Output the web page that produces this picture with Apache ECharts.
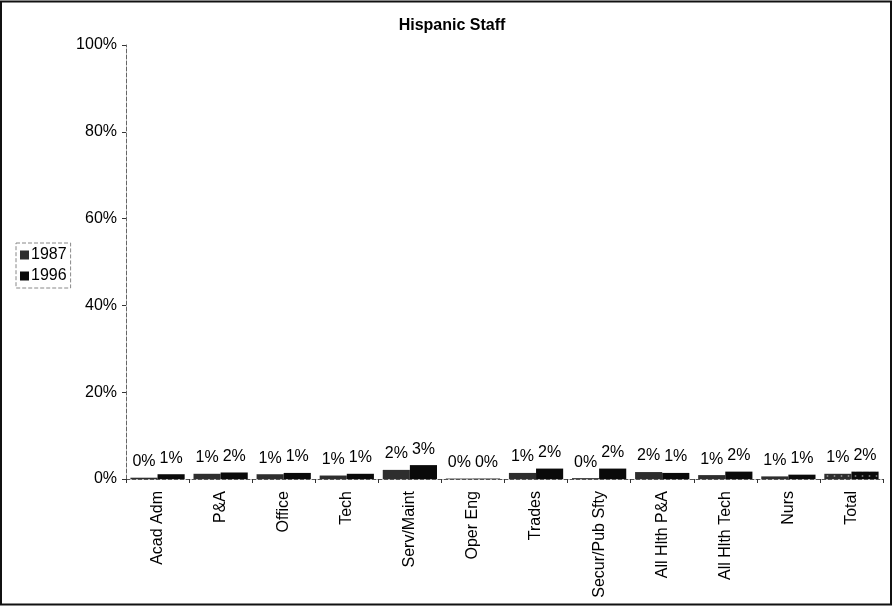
<!DOCTYPE html>
<html>
<head>
<meta charset="utf-8">
<script src="https://cdn.jsdelivr.net/npm/echarts@6/dist/echarts.min.js"></script>
<style>
  html, body { margin: 0; padding: 0; background: #fff; }
  #chart { width: 894px; height: 607px; }
</style>
</head>
<body>
<div id="chart"></div>
<script>
// Staff job categories
const categories = ['Acad Adm', 'P&A', 'Office', 'Tech', 'Serv/Maint', 'Oper Eng',
  'Trades', 'Secur/Pub Sfty', 'All Hlth P&A', 'All Hlth Tech', 'Nurs', 'Total'];
// Hispanic share of staff, in percent
const values1987 = [0.3, 1.2, 1.1, 0.8, 2.1, 0.1, 1.4, 0.2, 1.6, 0.9, 0.6, 1.2];
const values1996 = [1.1, 1.5, 1.4, 1.2, 3.2, 0.1, 2.4, 2.4, 1.4, 1.7, 1.0, 1.7];
const yTicks = [0, 20, 40, 60, 80, 100];

const font = 'Liberation Sans, Arial, sans-serif';
const chart = echarts.init(document.getElementById('chart'));

const labelCfg = {
  show: true,
  position: 'top',
  distance: 8,
  color: '#000',
  fontFamily: font,
  fontSize: 16,
  formatter: p => Math.round(p.value) + '%'
};

const totalDecal = {
  symbol: 'rect',
  symbolSize: 0.5,
  color: 'rgba(255,255,255,0.8)',
  dashArrayX: [3, 4],
  dashArrayY: [2, 3],
  rotation: 0
};

function seriesData(vals, color) {
  return vals.map((v, i) => categories[i] === 'Total'
    ? { value: v, itemStyle: { color: color, decal: totalDecal } }
    : v);
}

chart.setOption({
  backgroundColor: '#fff',
  animation: false,
  aria: { enabled: false },
  title: {
    text: 'Hispanic Staff',
    left: 447,
    top: 13,
    textAlign: 'center',
    textStyle: { fontFamily: font, fontSize: 16, fontWeight: 'bold', color: '#000' }
  },
  legend: {
    orient: 'vertical',
    left: 16,
    top: 243,
    padding: [4, 4, 4, 4],
    itemGap: 5,
    itemWidth: 9,
    itemHeight: 9,
    borderColor: '#888',
    borderWidth: 1,
    borderType: 'dashed',
    icon: 'rect',
    textStyle: { fontFamily: font, fontSize: 16, color: '#000', padding: [0, 0, 0, -3] },
    data: ['1987', '1996']
  },
  grid: { left: 126, right: 11, top: 45, bottom: 128 },
  xAxis: {
    type: 'category',
    data: categories,
    axisLine: { lineStyle: { color: '#555', type: 'dashed', width: 1 } },
    axisTick: { show: true, length: 4, lineStyle: { color: '#333' } },
    axisLabel: {
      rotate: 90,
      interval: 0,
      margin: 12,
      color: '#000',
      fontFamily: font,
      fontSize: 16
    }
  },
  yAxis: {
    type: 'value',
    min: 0,
    max: 100,
    interval: 20,
    splitLine: { show: false },
    axisLine: { show: true, lineStyle: { color: '#666', type: 'dashed', width: 1 } },
    axisTick: { show: true, length: 4, inside: false, lineStyle: { color: '#333' } },
    axisLabel: {
      margin: 9,
      color: '#000',
      fontFamily: font,
      fontSize: 16,
      formatter: v => yTicks.includes(v) ? v + '%' : ''
    }
  },
  series: [
    {
      name: '1987',
      type: 'bar',
      data: seriesData(values1987, '#2e2e2e'),
      barGap: '0%',
      barCategoryGap: '14%',
      itemStyle: { color: '#2e2e2e' },
      label: labelCfg
    },
    {
      name: '1996',
      type: 'bar',
      data: seriesData(values1996, '#0a0a0a'),
      itemStyle: { color: '#0a0a0a' },
      label: labelCfg
    }
  ],
  graphic: [
    {
      type: 'rect',
      shape: { x: 1, y: 1.5, width: 890, height: 603 },
      style: { fill: 'none', stroke: '#111', lineWidth: 2 },
      silent: true
    }
  ]
});
</script>
</body>
</html>
